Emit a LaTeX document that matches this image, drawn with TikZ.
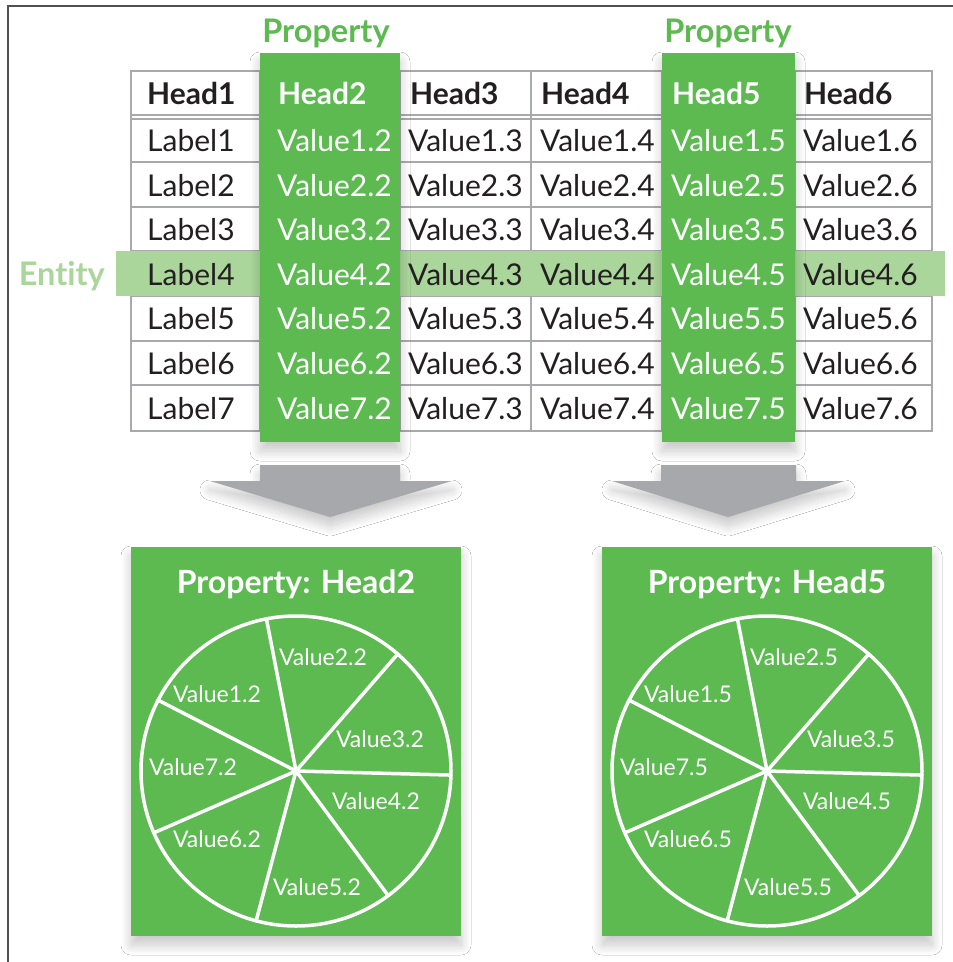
\documentclass[tikz,border=0pt]{standalone}
\usepackage{fontspec}
\setmainfont{Lato}[Ligatures={NoCommon}]
\usetikzlibrary{shadows.blur}
\definecolor{grn}{RGB}{92,186,81}
\definecolor{lgrn}{RGB}{171,214,155}
\definecolor{tline}{RGB}{167,169,172}
\definecolor{arr}{RGB}{167,168,172}
\definecolor{txt}{RGB}{35,31,32}
\definecolor{frame}{RGB}{80,80,80}
\begin{document}
\begin{tikzpicture}[x=1pt,y=-1pt,
  cell/.style={anchor=base west,inner sep=0pt,font=\fontsize{30}{30}\selectfont,text=txt},
  hcell/.style={cell,font=\fontsize{30}{30}\selectfont\bfseries},
  gcell/.style={cell,text=white},
  ghcell/.style={hcell,text=white},
  softshadow/.style={blur shadow={shadow xshift=0pt,shadow yshift=-9pt,shadow blur radius=10pt,shadow opacity=22,shadow blur steps=16}},
  gcol/.style={fill=grn,draw=none,inner sep=0pt,softshadow},
  gbox/.style={gcol},
  plabel/.style={text=grn,font=\fontsize{32.5}{32}\selectfont\bfseries,inner sep=0pt},
  pielab/.style={text=white,font=\fontsize{23}{23}\selectfont,inner sep=0pt},
  pieline/.style={draw=white,line width=3.5pt},
  arrowshape/.style={fill=arr,softshadow}
]
\useasboundingbox (0,0) rectangle (953,962);
\fill[white] (0,0) rectangle (953,962);
% frame
\draw[frame,line width=1.5pt] (8,962) -- (8,6) -- (953,6);
% table grid
\draw[tline,line width=1.5pt] (131,71) rectangle (932,431);
\foreach \yy in {115,119,162,207,251,296,341,385} \draw[tline,line width=1.5pt] (131,\yy) -- (932,\yy);
\foreach \xx in {260,400,531,662,795} \draw[tline,line width=1.5pt] (\xx,71) -- (\xx,431);
% entity band
\fill[lgrn] (116,251) rectangle (945,296);
\node[text=lgrn,font=\fontsize{32.5}{32}\selectfont\bfseries,anchor=base east,inner sep=0pt] (entity) at (105,285) {Entity};
% green columns
\node[gcol,minimum width=140pt,minimum height=389pt] (col2) at (330,247.5) {};
\node[gcol,minimum width=133pt,minimum height=389pt] (col5) at (728.5,247.5) {};
\node[plabel] (prop2) at (326,33) {Property};
\node[plabel] (prop5) at (728,33) {Property};
% header
\node[hcell] (h1) at (147,104) {Head1};
\node[ghcell] (h2) at (278,104) {Head2};
\node[hcell] (h3) at (410,104) {Head3};
\node[hcell] (h4) at (541,104) {Head4};
\node[ghcell] (h5) at (672,104) {Head5};
\node[hcell] (h6) at (804,104) {Head6};
% rows
\foreach \r/\yc in {1/141,2/185.5,3/230,4/274.5,5/319,6/363.5,7/408.5}{
  \node[cell] (l\r) at (147,\yc+10.5) {Label\r};
  \node[gcell] (v\r2) at (277,\yc+10.5) {Value\r.2};
  \node[cell] (v\r3) at (408,\yc+10.5) {Value\r.3};
  \node[cell] (v\r4) at (540,\yc+10.5) {Value\r.4};
  \node[gcell] (v\r5) at (671,\yc+10.5) {Value\r.5};
  \node[cell] (v\r6) at (803,\yc+10.5) {Value\r.6};
}
% arrows
\fill[arrowshape] (260,465) -- (400,465) -- (400,481) -- (452,481) -- (330,517) -- (210,481) -- (260,481) -- cycle;
\fill[arrowshape] (661,465) -- (796,465) -- (796,481) -- (845,481) -- (728,517) -- (612,481) -- (661,481) -- cycle;
% boxes
\node[gbox,minimum width=330pt,minimum height=389pt] (box2) at (296,741.5) {};
\node[gbox,minimum width=330pt,minimum height=389pt] (box5) at (767,741.5) {};
\foreach \cx/\k/\nm in {296/2/boxtitleA,767/5/boxtitleB}{
  \node[text=white,font=\fontsize{32}{32}\selectfont\bfseries,inner sep=0pt] (\nm) at (\cx,584) {Property: Head\k};
  \draw[pieline] (\cx,771) circle (155pt);
  \foreach \a in {101,49,-1.5,-53.5,-104.9,203.5,152.8}
    \draw[pieline,line cap=round] (\cx,771) -- ++(\a:155pt);
}
\foreach \dx/\k in {0/2,471/5}{
  \node[pielab] at (323+\dx,657) {Value2.\k};
  \node[pielab] at (217+\dx,694) {Value1.\k};
  \node[pielab] at (380+\dx,739) {Value3.\k};
  \node[pielab] at (193+\dx,767) {Value7.\k};
  \node[pielab] at (376+\dx,801) {Value4.\k};
  \node[pielab] at (217+\dx,839) {Value6.\k};
  \node[pielab] at (317+\dx,887) {Value5.\k};
}
\end{tikzpicture}
\end{document}
